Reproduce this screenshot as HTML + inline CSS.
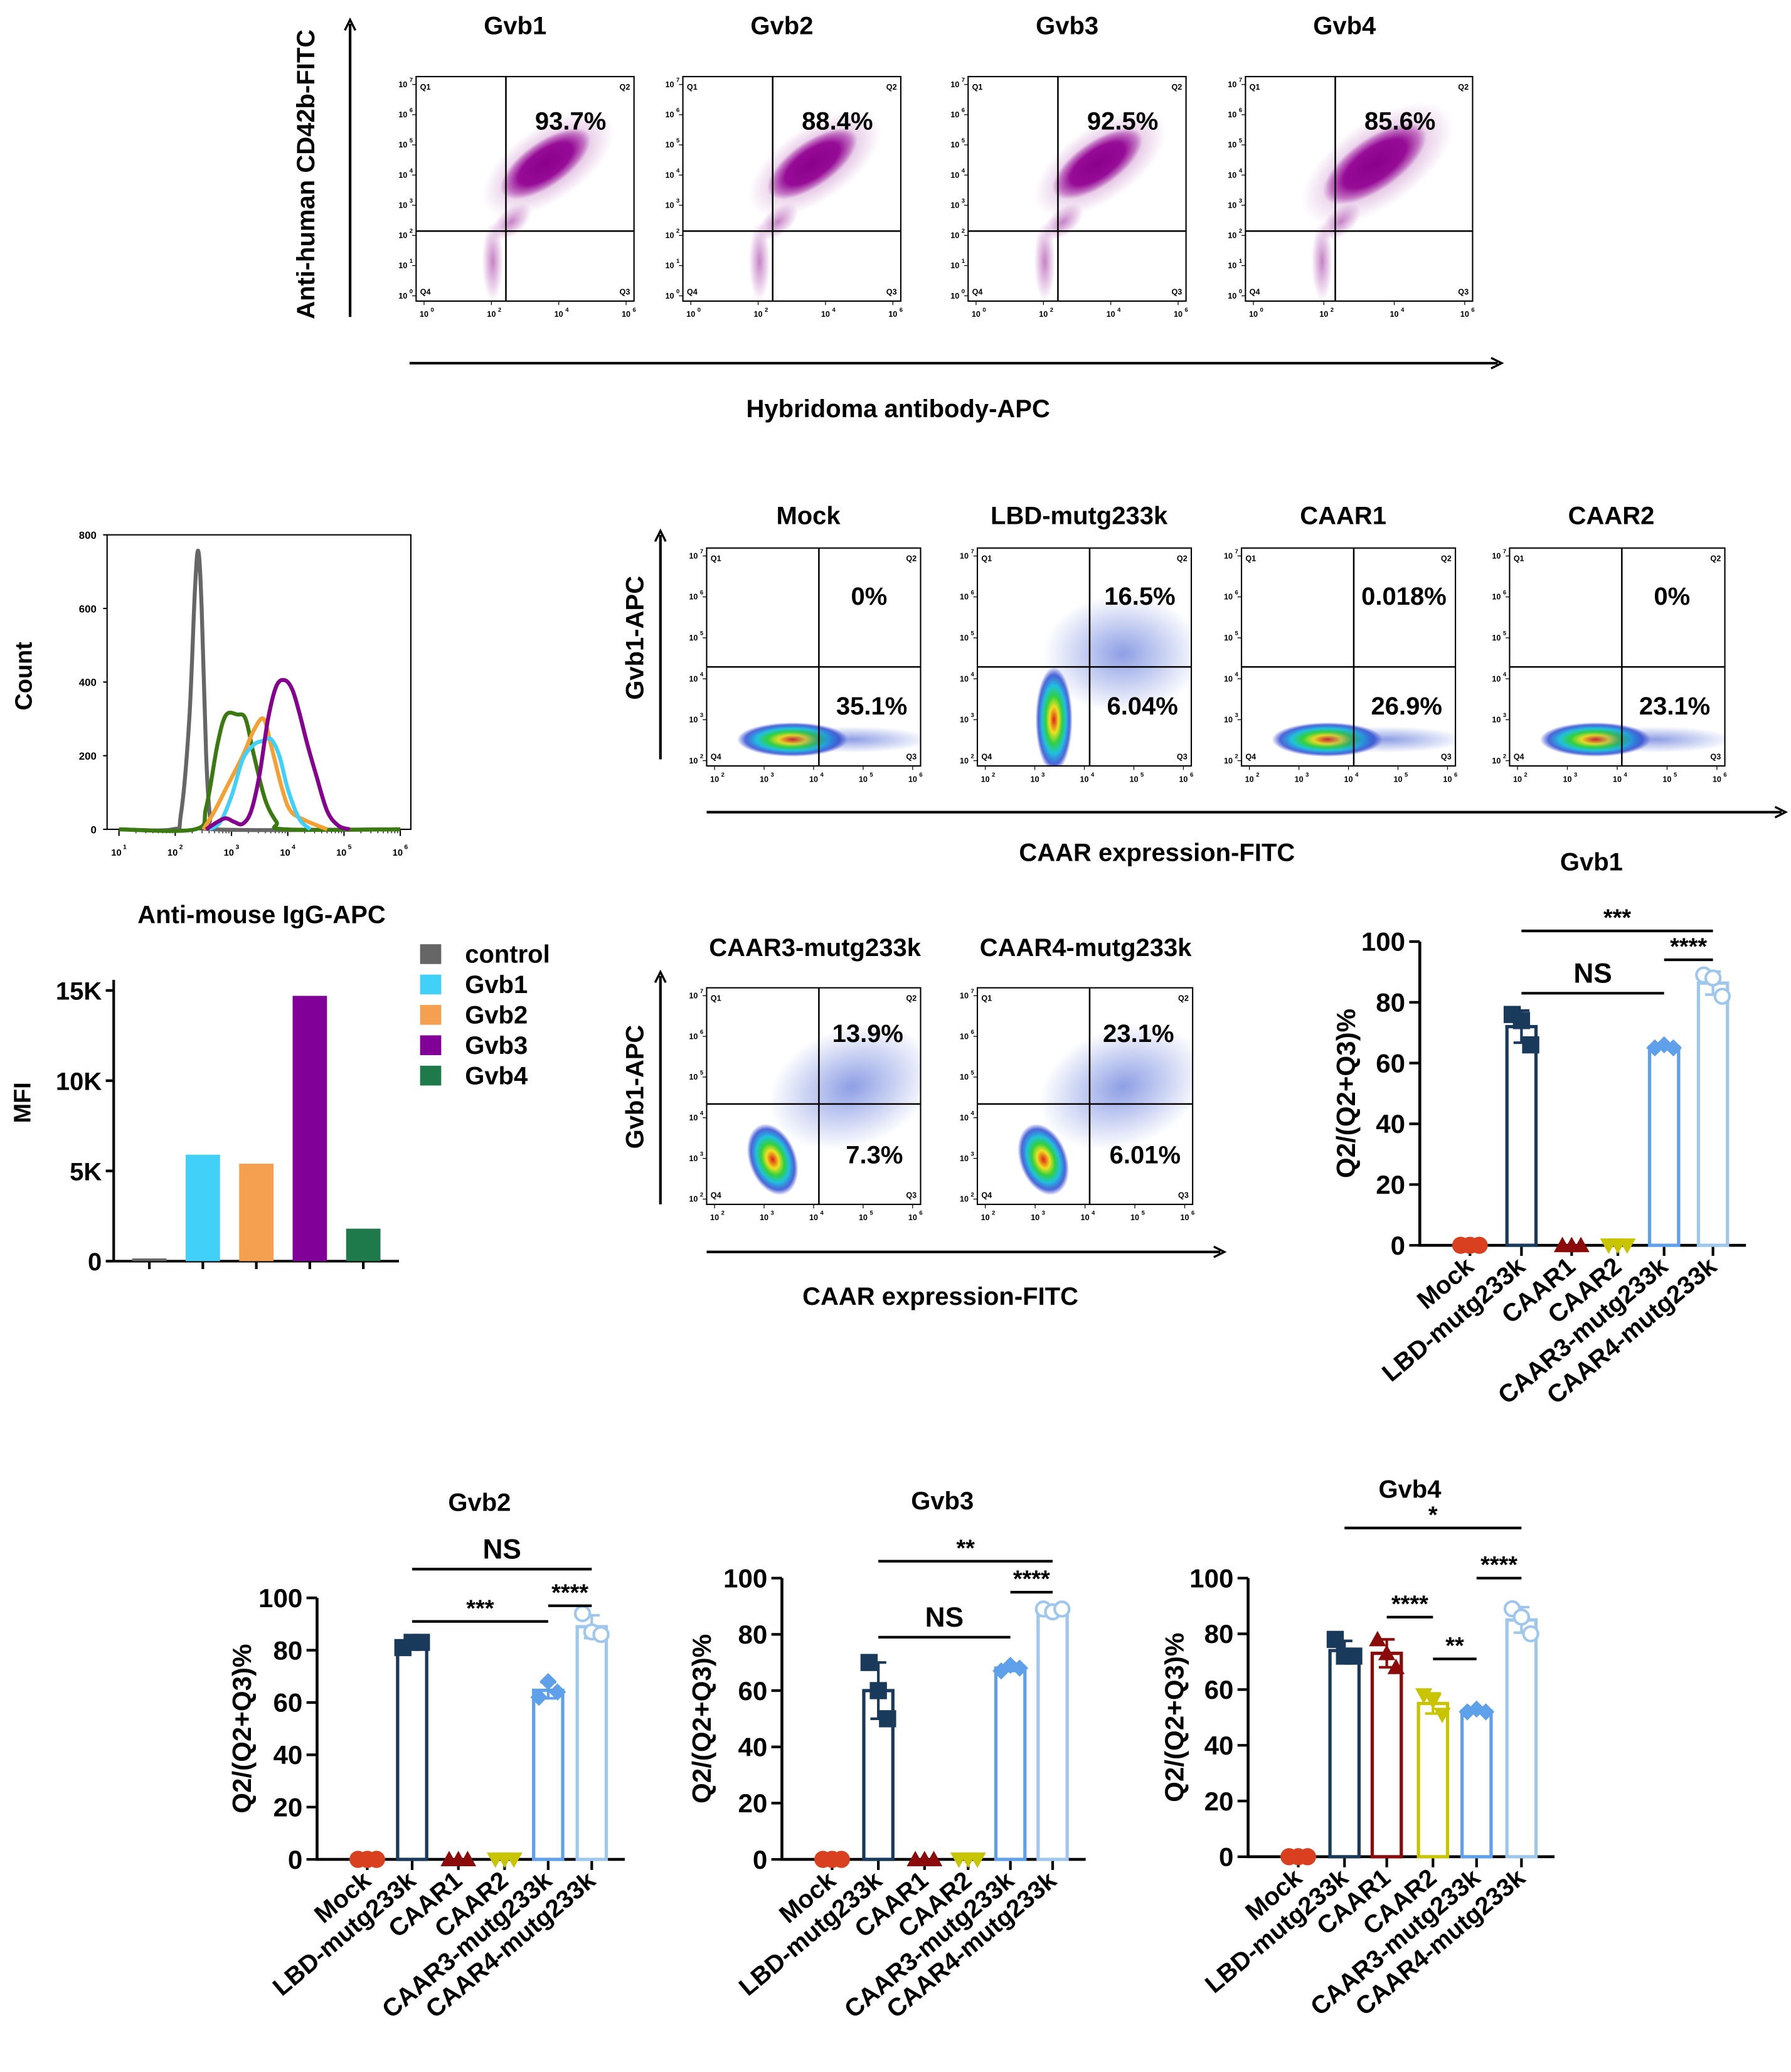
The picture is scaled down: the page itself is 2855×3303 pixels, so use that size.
<!DOCTYPE html>
<html><head><meta charset="utf-8"><style>
html,body{margin:0;padding:0;background:#fff}
svg{display:block}
text{font-family:"Liberation Sans",Arial,sans-serif;font-weight:bold;fill:#000}
</style></head><body>
<svg id="fig" xmlns="http://www.w3.org/2000/svg" width="2855" height="3303" viewBox="0 0 1356 1569">
<defs>
<radialGradient id="dens" cx="50%" cy="50%" r="50%">
<stop offset="0" stop-color="#e0201a"/><stop offset="0.25" stop-color="#f0e020"/><stop offset="0.45" stop-color="#30d040"/><stop offset="0.65" stop-color="#20c0e0"/><stop offset="0.85" stop-color="#2040d0" stop-opacity="0.8"/><stop offset="1" stop-color="#2030c0" stop-opacity="0"/>
</radialGradient>
<radialGradient id="sparse" cx="50%" cy="50%" r="50%">
<stop offset="0" stop-color="#3050d0" stop-opacity="0.55"/><stop offset="1" stop-color="#3050d0" stop-opacity="0"/>
</radialGradient>
<radialGradient id="purp" cx="50%" cy="50%" r="50%">
<stop offset="0" stop-color="#8a008a"/><stop offset="0.6" stop-color="#960c96"/><stop offset="0.85" stop-color="#a020a0" stop-opacity="0.5"/><stop offset="1" stop-color="#a020a0" stop-opacity="0"/>
</radialGradient>
<radialGradient id="purpl" cx="50%" cy="50%" r="50%">
<stop offset="0" stop-color="#a030a0" stop-opacity="0.6"/><stop offset="1" stop-color="#a030a0" stop-opacity="0"/>
</radialGradient>
</defs>
</svg>
<script>
// ---------- data ----------
const cats = ['Mock','LBD-mutg233k','CAAR1','CAAR2','CAAR3-mutg233k','CAAR4-mutg233k'];
const catColors = ['#d8401f','#1a3a5c','#8b0a0a','#c8c400','#5ea0ea','#9fc6ec'];
const gvb1Pts = [[0,0,0],[76,74,66],[0,0,0],[0,0,0],[65,66,65],[89,88,82]];
const gvb2Pts = [[0,0,0],[81,83,83],[0,0,0],[0,0,0],[62,68,64],[94,87,86]];
const gvb3Pts = [[0,0,0],[70,60,50],[0,0,0],[0,0,0],[67,69,68],[89,88,89]];
const gvb4Pts = [[0,0,0],[78,72,72],[78,73,68],[58,56,51],[52,53,52],[89,86,80]];
const gvb1Sig = [[1,5,103.5,'***'],[4,5,94,'****'],[1,4,83,'NS']];
const gvb2Sig = [[1,5,111,'NS'],[4,5,97,'****'],[1,4,91,'***']];
const gvb3Sig = [[1,5,106,'**'],[4,5,95,'****'],[1,4,79,'NS']];
const gvb4Sig = [[1,5,118,'*'],[4,5,100,'****'],[2,3,86,'****'],[3,4,71,'**']];
const yTicks = [0,20,40,60,80,100];

const mfiCats = ['control','Gvb1','Gvb2','Gvb3','Gvb4'];
const mfiVals = [150,5900,5400,14700,1800];
const mfiColors = ['#666666','#40d0f8','#f5a050','#800098','#1e7a4a'];
const mfiTicks = [0,5000,10000,15000];
const mfiTickLabels = ['0','5K','10K','15K'];

const histLog = {
 control:[[1.0,0],[1.95,0],[2.1,40],[2.25,300],[2.35,650],[2.41,756],[2.47,600],[2.55,200],[2.62,30],[2.7,0],[6,0]],
 Gvb4:[[1.0,0],[2.35,0],[2.55,60],[2.75,230],[2.9,310],[3.1,312],[3.25,300],[3.4,200],[3.6,80],[3.8,20],[3.95,0],[6,0]],
 Gvb2:[[2.5,0],[2.7,50],[2.9,110],[3.2,200],[3.4,270],[3.57,300],[3.7,230],[3.9,110],[4.05,50],[4.3,25],[4.7,0]],
 Gvb1:[[2.6,0],[2.8,20],[3.0,90],[3.2,190],[3.4,230],[3.55,240],[3.7,245],[3.85,200],[4.0,110],[4.2,30],[4.4,0]],
 Gvb3:[[2.55,0],[2.75,20],[2.9,30],[3.05,20],[3.2,15],[3.35,50],[3.5,150],[3.65,300],[3.8,390],[3.95,405],[4.08,380],[4.2,320],[4.35,230],[4.5,150],[4.7,50],[4.9,10],[5.1,0]]
};
const histColors = {control:'#666666',Gvb4:'#3a7a10',Gvb2:'#f5a030',Gvb1:'#40d0f8',Gvb3:'#860090'};
const histOrder = ['control','Gvb4','Gvb2','Gvb1','Gvb3'];

// ---------- helpers ----------
const svg = document.getElementById('fig');
const NS = 'http://www.w3.org/2000/svg';
function mk(tag, attrs, parent){
  const e = document.createElementNS(NS, tag);
  for (const k in attrs) e.setAttribute(k, attrs[k]);
  (parent||svg).appendChild(e);
  return e;
}
function txt(s, x, y, size, parent, anchor, extra){
  const t = mk('text', Object.assign({x:x, y:y, 'font-size':size, 'text-anchor':anchor||'middle'}, extra||{}), parent);
  t.textContent = s;
  return t;
}
function arrowUp(x, y1, y2, name){
  const g = mk('g',{});
  
  
  mk('line',{x1:x,y1:y1,x2:x,y2:y2+3,stroke:'#000','stroke-width':2},g);
  mk('path',{d:`M${x-4},${y2+8} L${x},${y2} L${x+4},${y2+8}`,fill:'none',stroke:'#000','stroke-width':1.6},g);
}
function arrowRight(x1, x2, y, name){
  const g = mk('g',{});
  
  
  mk('line',{x1:x1,y1:y,x2:x2-3,y2:y,stroke:'#000','stroke-width':2},g);
  mk('path',{d:`M${x2-8},${y-4} L${x2},${y} L${x2-8},${y+4}`,fill:'none',stroke:'#000','stroke-width':1.6},g);
}

// ---------- flow plot ----------
function flowPlot(name, x0, y0, w, h, qx, qy, xexp, yexp, blobs, pTop, pBot){
  const g = mk('g',{});
  
  
  const clip = mk('clipPath',{id:'c'+name},g);
  mk('rect',{x:x0,y:y0,width:w,height:h},clip);
  const bg = mk('g',{'clip-path':`url(#c${name})`},g);
  blobs.forEach(b=>{
    mk('ellipse',{cx:x0+b[0],cy:y0+b[1],rx:b[2],ry:b[3],fill:`url(#${b[5]})`,transform:`rotate(${b[4]} ${x0+b[0]} ${y0+b[1]})`},bg);
  });
  mk('rect',{x:x0,y:y0,width:w,height:h,fill:'none',stroke:'#000','stroke-width':1},g);
  mk('line',{x1:x0+qx,y1:y0,x2:x0+qx,y2:y0+h,stroke:'#000','stroke-width':1.2},g);
  mk('line',{x1:x0,y1:y0+qy,x2:x0+w,y2:y0+qy,stroke:'#000','stroke-width':1.2},g);
  txt('Q1',x0+3,y0+10,6,g,'start',{'font-weight':'normal'});
  txt('Q2',x0+w-3,y0+10,6,g,'end',{'font-weight':'normal'});
  txt('Q4',x0+3,y0+h-5,6,g,'start',{'font-weight':'normal'});
  txt('Q3',x0+w-3,y0+h-5,6,g,'end',{'font-weight':'normal'});
  const nx = xexp.length, ny = yexp.length;
  xexp.forEach((e,i)=>{
    const px = x0 + 6 + i*(w-12)/(nx-1);
    mk('line',{x1:px,y1:y0+h,x2:px,y2:y0+h+3,stroke:'#000','stroke-width':0.6},g);
    txt('10',px,y0+h+12,6,g,'middle',{'font-weight':'normal'});
    txt(e,px+5,y0+h+8,4.5,g,'start',{'font-weight':'normal'});
  });
  yexp.forEach((e,i)=>{
    const py = y0 + h - 4 - i*(h-10)/(ny-1);
    mk('line',{x1:x0-3,y1:py,x2:x0,y2:py,stroke:'#000','stroke-width':0.6},g);
    txt('10',x0-10,py+2,6,g,'middle',{'font-weight':'normal'});
    txt(e,x0-5,py-2,4.5,g,'start',{'font-weight':'normal'});
  });
  if(pTop) txt(pTop[0],x0+pTop[1],y0+pTop[2],19,g);
  if(pBot) txt(pBot[0],x0+pBot[1],y0+pBot[2],19,g);
}

// ---------- top row ----------
const topTitles = ['Gvb1','Gvb2','Gvb3','Gvb4'];
const topX = [315,517,733,943];
const topPct = ['93.7%','88.4%','92.5%','85.6%'];
topTitles.forEach((t,i)=>{
  const tt = txt(t, topX[i]+75, 26, 19);
  
  
  const wide = i===3 ? 1.15 : 1;
  flowPlot('flow-'+t.toLowerCase(), topX[i], 58, i===3?172:165, 170, 68, 117,
    ['0','2','4','6'], ['0','1','2','3','4','5','6','7'],
    [[100,66,58*wide,28*wide,-35,'purpl'],[98,66,40*wide,17*wide,-35,'purp'],[58,140,8,30,0,'purpl'],[72,110,18,10,-40,'purpl']],
    [topPct[i],117,40], null);
});
arrowUp(265, 240, 15, 'y-axis-arrow-top');
txt('Anti-human CD42b-FITC', 0, 0, 19, svg, 'middle', {transform:'translate(238,132) rotate(-90)',});
arrowRight(310, 1137, 275, 'x-axis-arrow-top');
txt('Hybridoma antibody-APC', 680, 316, 19, svg, 'middle', {});

// ---------- histogram ----------
(function(){
  const g = mk('g',{});
  
  
  const X0=81,X1=311,Y0=628,Y1=405;
  const xs = l => 90 + (l-1)*(303-90)/5;
  const ys = v => Y0 - v*(Y0-Y1)/800;
  mk('rect',{x:X0,y:Y1,width:X1-X0,height:Y0-Y1,fill:'none',stroke:'#000','stroke-width':1},g);
  [0,200,400,600,800].forEach(v=>{
    mk('line',{x1:X0-3,y1:ys(v),x2:X0,y2:ys(v),stroke:'#000','stroke-width':1},g);
    txt(String(v),X0-8,ys(v)+3,8,g,'end',{'font-weight':'normal'});
  });
  [1,2,3,4,5,6].forEach(d=>{
    mk('line',{x1:xs(d),y1:Y0,x2:xs(d),y2:Y0+5,stroke:'#000','stroke-width':1},g);
    txt('10',xs(d)-2,Y0+20,7,g,'middle',{'font-weight':'normal'});
    txt(String(d),xs(d)+3,Y0+15,5,g,'start',{'font-weight':'normal'});
    for(let k=2;k<10&&d<6;k++){const px=xs(d+Math.log10(k));mk('line',{x1:px,y1:Y0,x2:px,y2:Y0+3,stroke:'#000','stroke-width':0.6},g);}
  });
  histOrder.forEach(k=>{
    const pts = histLog[k].map(p=>[xs(p[0]),ys(p[1])]);
    let d='M'+pts[0][0]+','+pts[0][1];
    for(let i=1;i<pts.length;i++){
      const p0=pts[Math.max(0,i-2)],p1=pts[i-1],p2=pts[i],p3=pts[Math.min(pts.length-1,i+1)];
      const c1=[p1[0]+(p2[0]-p0[0])/6,p1[1]+(p2[1]-p0[1])/6],c2=[p2[0]-(p3[0]-p1[0])/6,p2[1]-(p3[1]-p1[1])/6];
      d+=` C${c1[0]},${c1[1]} ${c2[0]},${c2[1]} ${p2[0]},${p2[1]}`;
    }
    const p = mk('path',{d:d,fill:'none',stroke:histColors[k],'stroke-width':3,'stroke-linejoin':'round'},g);
    
    
  });
  txt('Count',0,0,18,g,'middle',{transform:'translate(24,512) rotate(-90)'});
  txt('Anti-mouse IgG-APC',198,699,19,g);
})();

// ---------- MFI bars ----------
(function(){
  const g = mk('g',{});
  
  
  const X0=86,X1=302,Y0=955,Y1=750;
  const ys = v => Y0 - v*(Y0-Y1)/15000;
  const xs = i => 113 + i*40.5;
  mk('line',{x1:X0,y1:742,x2:X0,y2:Y0,stroke:'#000','stroke-width':2},g);
  mk('line',{x1:X0,y1:Y0,x2:X1,y2:Y0,stroke:'#000','stroke-width':2},g);
  mfiTicks.forEach((v,i)=>{
    mk('line',{x1:X0-6,y1:ys(v),x2:X0,y2:ys(v),stroke:'#000','stroke-width':2},g);
    txt(mfiTickLabels[i],X0-9,ys(v)+7,19,g,'end');
  });
  mfiVals.forEach((v,i)=>{
    mk('line',{x1:xs(i),y1:Y0,x2:xs(i),y2:Y0+6,stroke:'#000','stroke-width':2},g);
    const b = mk('rect',{x:xs(i)-13,y:ys(v),width:26,height:Y0-ys(v),fill:mfiColors[i]},g);
    
    
  });
  txt('MFI',0,0,18,g,'middle',{transform:'translate(23,835) rotate(-90)'});
  mfiCats.forEach((c,i)=>{
    const le = mk('g',{},g);
    
    
    mk('rect',{x:318,y:715+i*23,width:16,height:15,fill:mfiColors[i]},le);
    txt(c,352,729+i*23,19,le,'start');
  });
})();

// ---------- middle flow plots ----------
const midTitles=['Mock','LBD-mutg233k','CAAR1','CAAR2'];
const midX=[535,740,940,1143];
const midTop=['0%','16.5%','0.018%','0%'];
const midBot=['35.1%','6.04%','26.9%','23.1%'];
const horiz=[[65,145,42,13,0,'dens'],[110,145,60,10,0,'sparse']];
const vert=[[58,130,14,40,0,'dens'],[110,80,60,45,0,'sparse']];
midTitles.forEach((t,i)=>{
  txt(t,midX[i]+77,397,19,svg,'middle',{});
  flowPlot('flow-mid-'+t.toLowerCase(),midX[i],415,i===3?163:162,165,85,90,['2','3','4','5','6'],['2','3','4','5','6','7'],
    i===1?vert:horiz,[midTop[i],123,43],[midBot[i],125,126]);
});
arrowUp(500,575,402,'y-axis-arrow-mid');
txt('Gvb1-APC',0,0,19,svg,'middle',{transform:'translate(487,483) rotate(-90)',});
arrowRight(535,1352,615,'x-axis-arrow-mid');
txt('CAAR expression-FITC',876,652,19,svg,'middle',{});

const lowTitles=['CAAR3-mutg233k','CAAR4-mutg233k'];
const lowX=[535,740];
const lowTop=['13.9%','23.1%'];
const lowBot=['7.3%','6.01%'];
lowTitles.forEach((t,i)=>{
  txt(t,midX[i]+82,724,19,svg,'middle',{});
  flowPlot('flow-low-'+t.toLowerCase(),lowX[i],748,i?163:162,164,85,88,['2','3','4','5','6'],['2','3','4','5','6','7'],
    [[50,130,18,28,-20,'dens'],[110,75,65,45,-20,'sparse']],[lowTop[i],122,41],[lowBot[i],127,133]);
});
arrowUp(500,912,736,'y-axis-arrow-low');
txt('Gvb1-APC',0,0,19,svg,'middle',{transform:'translate(487,823) rotate(-90)',});
arrowRight(535,927,948,'x-axis-arrow-low');
txt('CAAR expression-FITC',712,988,19,svg,'middle',{});

// ---------- bar charts ----------
function marker(g,shape,x,y,col){
  const s=6.5;
  if(shape===0) mk('circle',{cx:x,cy:y,r:s,fill:col},g);
  else if(shape===1) mk('rect',{x:x-s,y:y-s,width:2*s,height:2*s,fill:col},g);
  else if(shape===2) mk('path',{d:`M${x},${y-s} L${x+s},${y+s*0.8} L${x-s},${y+s*0.8}Z`,fill:col},g);
  else if(shape===3) mk('path',{d:`M${x},${y+s} L${x+s},${y-s*0.8} L${x-s},${y-s*0.8}Z`,fill:col},g);
  else if(shape===4) mk('path',{d:`M${x},${y-s} L${x+s},${y} L${x},${y+s} L${x-s},${y}Z`,fill:col},g);
  else mk('circle',{cx:x,cy:y,r:s-1,fill:'#fff',stroke:col,'stroke-width':2},g);
}
function barChart(name,title,titleY,catX,y0,y100,yl,pts,sig){
  const g = mk('g',{});
  
  
  const ys = v => y0 - v*(y0-y100)/100;
  const ax = catX[0]-38;
  txt(title,(catX[0]+catX[5])/2,titleY,19,g);
  mk('line',{x1:ax,y1:ys(100),x2:ax,y2:y0,stroke:'#000','stroke-width':2.2},g);
  mk('line',{x1:ax-1,y1:y0,x2:catX[5]+25,y2:y0,stroke:'#000','stroke-width':2.2},g);
  yTicks.forEach(v=>{
    mk('line',{x1:ax-8,y1:ys(v),x2:ax,y2:ys(v),stroke:'#000','stroke-width':2},g);
    txt(String(v),ax-11,ys(v)+7,20,g,'end');
  });
  txt('Q2/(Q2+Q3)%',0,0,20,g,'middle',{transform:`translate(${yl},${(ys(0)+ys(100))/2}) rotate(-90)`});
  pts.forEach((p,i)=>{
    const x=catX[i],col=catColors[i];
    const mean=(p[0]+p[1]+p[2])/3;
    const sd=Math.sqrt(p.reduce((a,v)=>a+(v-mean)*(v-mean),0)/2);
    mk('line',{x1:x,y1:y0,x2:x,y2:y0+8,stroke:'#000','stroke-width':2},g);
    if(mean>0.5){
      const b=mk('rect',{x:x-11,y:ys(mean),width:22,height:y0-ys(mean),fill:'none',stroke:col,'stroke-width':2.5},g);
      
      
      mk('line',{x1:x,y1:ys(mean+sd),x2:x,y2:ys(mean-sd),stroke:col,'stroke-width':2},g);
      mk('line',{x1:x-6,y1:ys(mean+sd),x2:x+6,y2:ys(mean+sd),stroke:col,'stroke-width':2},g);
      mk('line',{x1:x-6,y1:ys(mean-sd),x2:x+6,y2:ys(mean-sd),stroke:col,'stroke-width':2},g);
    }
    p.forEach((v,j)=>marker(g,i,x+(j-1)*7,ys(v),col));
    txt(cats[i],0,0,19,g,'end',{transform:`translate(${x+4},${y0+18}) rotate(-40)`});
  });
  sig.forEach(s=>{
    const y=ys(s[2]);
    mk('line',{x1:catX[s[0]],y1:y,x2:catX[s[1]],y2:y,stroke:'#000','stroke-width':2},g);
    txt(s[3],(catX[s[0]]+catX[s[1]])/2,s[3]==='NS'?y-8:y-4,s[3]==='NS'?21:18,g);
  });
}
barChart('gvb1-bar-chart','Gvb1',659,[1113,1152,1190,1225,1260,1297],943,713,1026,gvb1Pts,gvb1Sig);
barChart('gvb2-bar-chart','Gvb2',1144,[278,312,347,382,415,448],1408,1210,190,gvb2Pts,gvb2Sig);
barChart('gvb3-bar-chart','Gvb3',1143,[630,665,700,733,765,797],1408,1195,538,gvb3Pts,gvb3Sig);
barChart('gvb4-bar-chart','Gvb4',1134,[983,1018,1050,1085,1118,1152],1406,1195,896,gvb4Pts,gvb4Sig);
</script>
</body></html>
